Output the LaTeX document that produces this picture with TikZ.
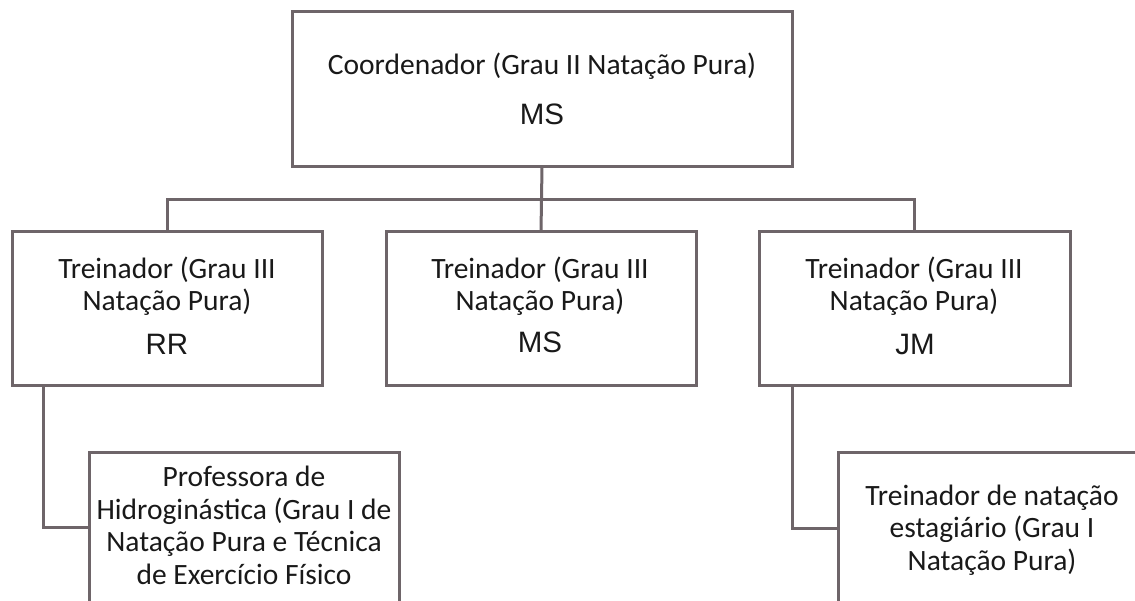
\documentclass[tikz,border=0pt]{standalone}
\usepackage{fontspec}
\setmainfont{Carlito}
\newfontfamily\arialf{Liberation Sans}
\definecolor{ln}{RGB}{110,101,105}
\definecolor{tx}{RGB}{25,25,25}
\begin{document}
\begin{tikzpicture}[x=1pt,y=-1pt,
  box/.style={draw=ln,line width=3pt,inner sep=0pt,outer sep=0pt,anchor=north west},
  role/.style={font=\fontsize{29.5}{32.5}\selectfont,text=tx,align=center,anchor=base,inner sep=0pt},
  ini/.style={font=\arialf\fontsize{29.5}{32}\selectfont,text=tx,anchor=base,inner sep=0pt},
  link/.style={draw=ln,line width=3pt}]
\useasboundingbox[fill=white] (0,0) rectangle (1135,601);
\begin{scope}
\clip (0,0) rectangle (1135,601);
% boxes
\node[box,minimum width=500pt,minimum height=155pt] (top) at (292,12) {};
\node[box,minimum width=310pt,minimum height=154pt] (lb) at (12,232) {};
\node[box,minimum width=310pt,minimum height=154pt] (mb) at (386,232) {};
\node[box,minimum width=311pt,minimum height=154pt] (rb) at (759,232) {};
\node[box,minimum width=310pt,minimum height=220pt] (bl) at (89,452) {};
\node[box,minimum width=330pt,minimum height=220pt] (br) at (838,452) {};
% texts (anchor base = baseline of the last line)
\node[role] (tct) at (542,75) {Coordenador (Grau II Natação Pura)};
\node[ini] (tci) at (542,125) {MS};
\node[role] (lbt) at (167,311) {Treinador (Grau III\\Natação Pura)};
\node[ini] (lbi) at (167,355) {RR};
\node[role] (mbt) at (540,311) {Treinador (Grau III\\Natação Pura)};
\node[ini] (mbi) at (540,353) {MS};
\node[role] (rbt) at (914,311) {Treinador (Grau III\\Natação Pura)};
\node[ini] (rbi) at (915,355) {JM};
\node[role] (blt) at (244,584) {Professora de\\Hidroginástica (Grau I de\\Natação Pura e Técnica\\de Exercício Físico};
\node[role] (brt) at (992,570) {Treinador de natação\\estagiário (Grau I\\Natação Pura)};
% connectors
\coordinate (bar) at (541,200);
\draw[link] (top.south) -- (mb.north);
\draw[link] (lb.north) -- (lb.north |- bar) -- (rb.north |- bar) -- (rb.north);
\coordinate (lk) at (43,527);
\coordinate (rk) at (792,528);
\draw[link] (lb.south -| lk) -- (lk) -- (lk -| bl.west);
\draw[link] (rb.south -| rk) -- (rk) -- (rk -| br.west);
\end{scope}
\end{tikzpicture}
\end{document}
